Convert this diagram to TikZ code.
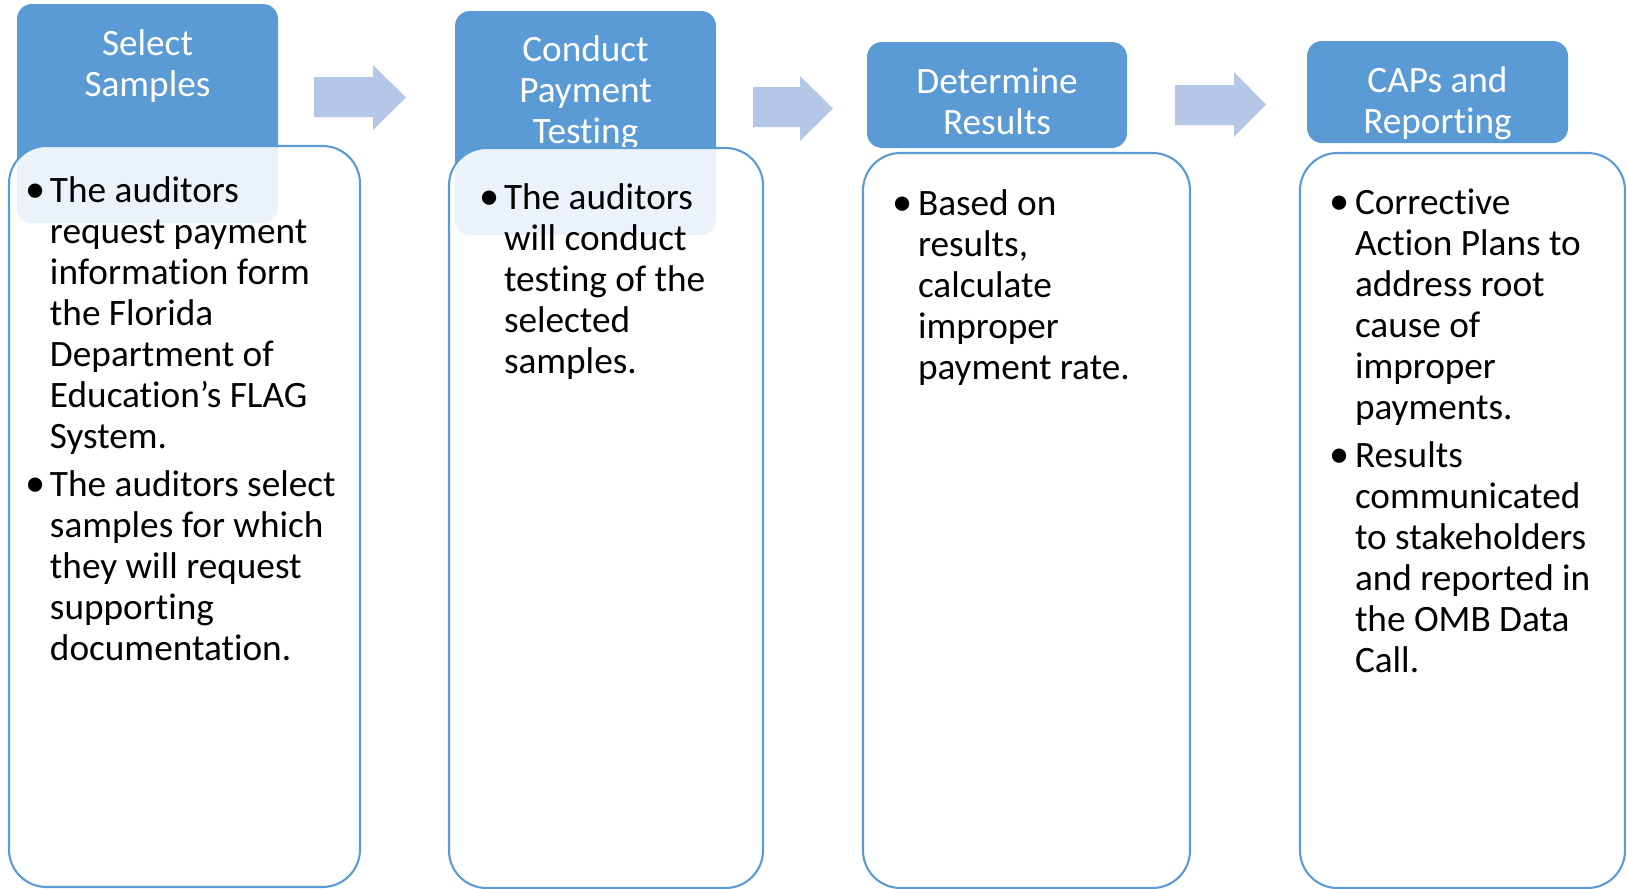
\documentclass[tikz,border=0pt]{standalone}
\usepackage{fontspec}
\setmainfont{Carlito}[Ligatures=NoCommon]
\usetikzlibrary{positioning}
\definecolor{hdblue}{HTML}{5B9BD5}
\definecolor{arrblue}{HTML}{B4C7E7}

\begin{document}
\begin{tikzpicture}
[x=0.02cm,y=-0.02cm,%
  every node/.style={inner sep=0pt,outer sep=0pt},%
  hdbox/.style={fill=hdblue,rounded corners=0.3cm},%
  txbox/.style={draw=hdblue,line width=1.2pt,fill=white,fill opacity=0.88,rounded corners=0.75cm},%
  hdtext/.style={text=white,align=center,anchor=base,font=\fontsize{21.2pt}{23.3pt}\selectfont},%
  bltext/.style={align=left,anchor=base west,font=\fontsize{21.2pt}{23.3pt}\selectfont},%
  bullet/.style={anchor=base,font=\fontsize{23pt}{23.3pt}\selectfont},%
  blockarrow/.style={fill=arrblue}]
\useasboundingbox (0,0) rectangle (1627,889);
% header boxes
\fill[hdbox] (17,4) rectangle (278,223);
\fill[hdbox] (455,11) rectangle (716,235);
\fill[hdbox] (867,42) rectangle (1127,148);
\fill[hdbox] (1307,41) rectangle (1568,143);
% header texts (anchored at the last line)
\node[hdtext] (h1) at (147.5,96) {Select\\Samples};
\node[hdtext] (h2) at (585.5,143) {Conduct\\Payment\\Testing};
\node[hdtext] (h3) at (997,134) {Determine\\Results};
\node[hdtext] (h4) at (1437.5,133) {CAPs and\\Reporting};
% text boxes
\draw[txbox] (9,146) rectangle (360,887);
\draw[txbox] (449,148) rectangle (763,888);
\draw[txbox] (863,153) rectangle (1190,888);
\draw[txbox] (1300,153) rectangle (1625,888);
% arrows
\fill[blockarrow] (314,77) -- (373,77) -- (373,65) -- (406,97.5) -- (373,130) -- (373,117) -- (314,117) -- cycle;
\fill[blockarrow] (753,87) -- (800,87) -- (800,76) -- (833,108.5) -- (800,141) -- (800,127) -- (753,127) -- cycle;
\fill[blockarrow] (1175,85) -- (1234,85) -- (1234,72) -- (1266,104.5) -- (1234,137) -- (1234,125) -- (1175,125) -- cycle;
% bullet lists (text anchored at the last line)
\node[bullet] (b1a) at (36,202) {•};
\node[bltext] (t1a) at (50,448) {The auditors\\request payment\\information form\\the Florida\\Department of\\Education’s FLAG\\System.};
\node[bullet] (b1b) at (36,496) {•};
\node[bltext] (t1b) at (50,660) {The auditors select\\samples for which\\they will request\\supporting\\documentation.};
\node[bullet] (b2a) at (490,209) {•};
\node[bltext] (t2a) at (504,373) {The auditors\\will conduct\\testing of the\\selected\\samples.};
\node[bullet] (b3a) at (903,215) {•};
\node[bltext] (t3a) at (918,379) {Based on\\results,\\calculate\\improper\\payment rate.};
\node[bullet] (b4a) at (1340,214) {•};
\node[bltext] (t4a) at (1355,419) {Corrective\\Action Plans to\\address root\\cause of\\improper\\payments.};
\node[bullet] (b4b) at (1340,467) {•};
\node[bltext] (t4b) at (1355,672) {Results\\communicated\\to stakeholders\\and reported in\\the OMB Data\\Call.};
\end{tikzpicture}
\end{document}
